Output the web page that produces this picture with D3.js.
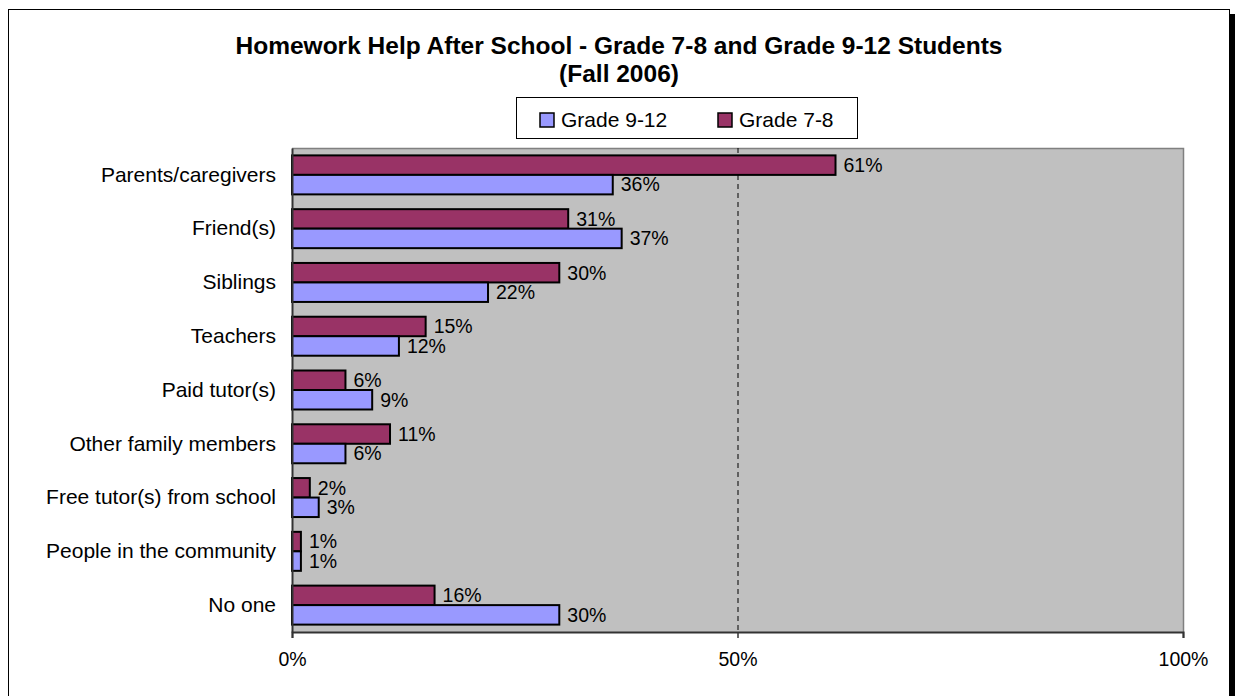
<!DOCTYPE html>
<html>
<head>
<meta charset="utf-8">
<script src="https://cdn.jsdelivr.net/npm/d3@7"></script>
<style>
  html, body { margin: 0; padding: 0; background: #fff; }
  svg { display: block; font-family: Arial, "Liberation Sans", sans-serif; }
</style>
</head>
<body>
<svg id="chart" width="1235" height="696"></svg>
<script>
// Survey responses: where students get homework help after school
const categories = [
  "Parents/caregivers", "Friend(s)", "Siblings", "Teachers", "Paid tutor(s)",
  "Other family members", "Free tutor(s) from school", "People in the community", "No one"
];
const grade78 = [61, 31, 30, 15, 6, 11, 2, 1, 16];
const grade912 = [36, 37, 22, 12, 9, 6, 3, 1, 30];
const seriesNames = ["Grade 7-8", "Grade 9-12"];
const legendOrder = ["Grade 9-12", "Grade 7-8"];
const xTicks = [0, 50, 100];
const titleLines = ["Homework Help After School - Grade 7-8 and Grade 9-12 Students", "(Fall 2006)"];

const colors = { "Grade 7-8": "#993366", "Grade 9-12": "#9999FF" };
const values = { "Grade 7-8": grade78, "Grade 9-12": grade912 };

const svg = d3.select("#chart");

// Outer chart frame with drop shadow
svg.append("rect").attr("x", 1230).attr("y", 14).attr("width", 6).attr("height", 700).attr("fill", "#000");
svg.append("rect").attr("x", 8.5).attr("y", 9.5).attr("width", 1221).attr("height", 700)
  .attr("fill", "#fff").attr("stroke", "#000").attr("stroke-width", 1);

const plot = { left: 292, right: 1183, top: 148, bottom: 632 };

const x = d3.scaleLinear().domain([0, 100]).range([plot.left, plot.right]);
const pad = 0.275;
const y = d3.scaleBand().domain(categories).range([plot.top, plot.bottom])
  .paddingInner(pad).paddingOuter(pad / 2);
const ySub = d3.scaleBand().domain(seriesNames).range([0, y.bandwidth()]);

// Plot background
svg.append("rect").attr("x", plot.left).attr("y", plot.top)
  .attr("width", plot.right - plot.left).attr("height", plot.bottom - plot.top)
  .attr("fill", "#C0C0C0");
svg.append("path")
  .attr("d", `M${plot.left},${plot.top + 0.5}H${plot.right + 0.5}V${plot.bottom}`)
  .attr("fill", "none").attr("stroke", "#808080").attr("stroke-width", 1.5);

// Dashed gridline at 50%
svg.append("line").attr("x1", x(50) + 0.5).attr("x2", x(50) + 0.5)
  .attr("y1", plot.top).attr("y2", plot.bottom)
  .attr("stroke", "#000").attr("stroke-width", 1).attr("stroke-dasharray", "5,4");

// Bars
const groups = svg.append("g").selectAll("g").data(categories).join("g")
  .attr("transform", d => `translate(0,${y(d)})`);

seriesNames.forEach(s => {
  groups.append("rect")
    .attr("x", x(0))
    .attr("y", (d) => ySub(s))
    .attr("width", (d, i) => x(values[s][i]) - x(0))
    .attr("height", ySub.bandwidth())
    .attr("fill", colors[s])
    .attr("stroke", "#000").attr("stroke-width", 2);
  groups.append("text")
    .attr("x", (d, i) => x(values[s][i]) + 8)
    .attr("y", ySub(s) + ySub.bandwidth() / 2)
    .attr("dy", "0.35em")
    .attr("font-size", 19.5)
    .attr("fill", "#000")
    .text((d, i) => values[s][i] + "%");
});

// X axis
const xAxis = d3.axisBottom(x).tickValues(xTicks).tickFormat(d => d + "%").tickSize(6).tickPadding(14);
const gx = svg.append("g").attr("transform", `translate(0,${plot.bottom})`).call(xAxis);
gx.select(".domain").attr("stroke", "#333").attr("stroke-width", 2);
gx.selectAll(".tick line").attr("stroke", "#333").attr("stroke-width", 1.5);
gx.selectAll(".tick text").attr("font-size", 19.5).attr("fill", "#000")
  .attr("font-family", "Arial, 'Liberation Sans', sans-serif");

// Y axis
const yAxis = d3.axisLeft(y).tickSize(0).tickPadding(16);
const gy = svg.append("g").attr("transform", `translate(${plot.left},0)`).call(yAxis);
gy.select(".domain").attr("stroke", "#333").attr("stroke-width", 2);
gy.selectAll(".tick text").attr("font-size", 21).attr("fill", "#000")
  .attr("font-family", "Arial, 'Liberation Sans', sans-serif");

// Title
svg.append("g").selectAll("text").data(titleLines).join("text")
  .attr("x", 619).attr("y", (d, i) => 54 + i * 28)
  .attr("text-anchor", "middle").attr("font-size", 24.5).attr("font-weight", "bold")
  .text(d => d);

// Legend
const lg = svg.append("g");
lg.append("rect").attr("x", 516.5).attr("y", 97.5).attr("width", 341).attr("height", 41)
  .attr("fill", "#fff").attr("stroke", "#000").attr("stroke-width", 1);
const legendX = [540, 718];
legendOrder.forEach((s, i) => {
  lg.append("rect").attr("x", legendX[i]).attr("y", 113).attr("width", 14).attr("height", 14)
    .attr("fill", colors[s]).attr("stroke", "#000").attr("stroke-width", 1.5);
  lg.append("text").attr("x", legendX[i] + 21).attr("y", 127)
    .attr("font-size", 21).text(s);
});
</script>
</body>
</html>
